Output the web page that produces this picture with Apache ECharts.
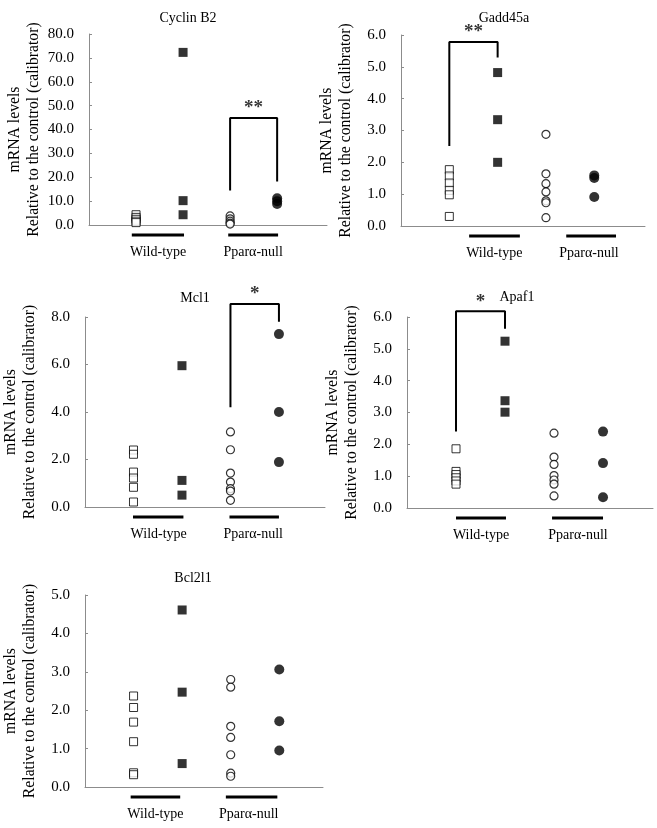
<!DOCTYPE html>
<html>
<head>
<meta charset="utf-8">
<script src="https://cdn.jsdelivr.net/npm/echarts@6/dist/echarts.min.js"></script>
<style>
html,body{margin:0;padding:0;background:#fff;}
#c{width:657px;height:828px;}
</style>
</head>
<body>
<div id="c"></div>
<script>
// ---------------- DATA ----------------
var groups = ["Wild-type", "Pparα-null"];
var genes = ["Cyclin B2", "Gadd45a", "Mcl1", "Apaf1", "Bcl2l1"];

// Cyclin B2
var cyclinWtControl   = [4.3, 3.2, 2.4, 1.6, 1.0];
var cyclinWtTreated   = [72.3, 10.2, 4.3];
var cyclinNullControl = [3.8, 2.6, 1.6, 0.8, 0.4];
var cyclinNullTreated = [11.2, 10.0, 8.8];
var cyclinSig = {from: 3, to: 4, top: 44.8, leftLow: 14.4, rightLow: 18.2, mark: "**"};

// Gadd45a
var gaddWtControl   = [1.77, 1.57, 1.35, 1.12, 0.98, 0.30];
var gaddWtTreated   = [4.82, 3.34, 2.0];
var gaddNullControl = [2.88, 1.64, 1.33, 1.07, 0.79, 0.73, 0.26];
var gaddNullTreated = [1.59, 1.51, 0.91];
var gaddSig = {from: 1, to: 2, top: 5.78, leftLow: 2.51, rightLow: 5.29, mark: "**"};

// Mcl1
var mclWtControl   = [2.4, 2.22, 1.47, 1.22, 0.83, 0.21];
var mclWtTreated   = [5.95, 1.12, 0.5];
var mclNullControl = [3.16, 2.41, 1.43, 1.05, 0.77, 0.67, 0.28];
var mclNullTreated = [7.28, 4.0, 1.89];
var mclSig = {from: 3, to: 4, top: 8.55, leftLow: 4.2, rightLow: 7.8, mark: "*"};

// Apaf1
var apafWtControl   = [1.86, 1.15, 1.05, 0.95, 0.85, 0.75];
var apafWtTreated   = [5.24, 3.37, 3.01];
var apafNullControl = [2.35, 1.6, 1.37, 1.02, 0.88, 0.75, 0.38];
var apafNullTreated = [2.4, 1.41, 0.34];
var apafSig = {from: 1, to: 2, top: 6.18, leftLow: 2.4, rightLow: 5.63, mark: "*"};

// Bcl2l1
var bclWtControl   = [2.37, 2.07, 1.69, 1.18, 0.37, 0.32];
var bclWtTreated   = [4.61, 2.47, 0.61];
var bclNullControl = [2.8, 2.6, 1.58, 1.29, 0.84, 0.36, 0.28];
var bclNullTreated = [3.06, 1.71, 0.95];

// y-axis scales
var yMaxes = [80, 6, 8, 6, 5];
var yIntervals = [10, 1, 2, 1, 1];

// ---------------- LAYOUT ----------------
var panels = [
  {left: 89,  top: 34,  width: 238, height: 191, xMax: 5.06,
   ul: [[0.91, 2.02], [2.96, 4.02]], lab: [1.47, 3.49], title: [183, 6]},
  {left: 401, top: 35,  width: 244, height: 191, xMax: 5.05,
   ul: [[1.41, 2.46], [3.42, 4.45]], lab: [1.93, 3.89], title: [499, 6]},
  {left: 84,  top: 317, width: 241, height: 190, xMax: 4.95,
   ul: [[0.99, 2.03], [2.98, 4.0]], lab: [1.52, 3.47], title: [190, 286]},
  {left: 407, top: 317, width: 246, height: 191, xMax: 5.02,
   ul: [[1.0, 2.02], [2.96, 4.0]], lab: [1.51, 3.49], title: [512, 285]},
  {left: 83,  top: 595, width: 240, height: 192, xMax: 4.9,
   ul: [[0.94, 1.96], [2.9, 3.96]], lab: [1.45, 3.37], title: [188, 566]}
];

var panelData = [
  [cyclinWtControl, cyclinWtTreated, cyclinNullControl, cyclinNullTreated, cyclinSig],
  [gaddWtControl, gaddWtTreated, gaddNullControl, gaddNullTreated, gaddSig],
  [mclWtControl, mclWtTreated, mclNullControl, mclNullTreated, mclSig],
  [apafWtControl, apafWtTreated, apafNullControl, apafNullTreated, apafSig],
  [bclWtControl, bclWtTreated, bclNullControl, bclNullTreated, null]
];

var FONT = "Liberation Serif, Times New Roman, serif";
var AXIS_COLOR = "#8c8c8c";

var option = {
  backgroundColor: "#fff",
  animation: false,
  title: [], grid: [], xAxis: [], yAxis: [], series: []
};

function col(x, arr) { return arr.map(function (v) { return [x, v]; }); }

panels.forEach(function (p, i) {
  option.title.push({
    text: genes[i], left: p.title[0], top: p.title[1], textAlign: "center",
    textStyle: {fontFamily: FONT, fontSize: 14, fontWeight: "normal", color: "#000"}
  });
  option.grid.push({left: p.left, top: p.top, width: p.width, height: p.height, containLabel: false});
  (function (lab) {
    option.xAxis.push({
      gridIndex: i, type: "value", min: 0, max: p.xMax,
      axisLine: {show: true, lineStyle: {color: AXIS_COLOR, width: 1}},
      axisTick: {show: false},
      splitLine: {show: false},
      axisLabel: {
        show: true, customValues: lab, margin: 20,
        fontFamily: FONT, fontSize: 14, color: "#000",
        formatter: function (v) { return Math.abs(v - lab[0]) < 1e-6 ? groups[0] : groups[1]; }
      }
    });
  })(p.lab);
  option.yAxis.push({
    gridIndex: i, type: "value", min: 0, max: yMaxes[i], interval: yIntervals[i],
    name: "mRNA levels\nRelative to the control (calibrator)",
    nameLocation: "middle", nameGap: 46,
    nameTextStyle: {fontFamily: FONT, fontSize: 15.7, color: "#000", lineHeight: 19},
    axisLine: {show: true, lineStyle: {color: AXIS_COLOR, width: 1}},
    axisTick: {show: true, inside: true, length: 3, lineStyle: {color: AXIS_COLOR}},
    splitLine: {show: false},
    axisLabel: {
      fontFamily: FONT, fontSize: 15, color: "#000", margin: 15,
      formatter: function (v) { return v.toFixed(1); }
    }
  });

  var d = panelData[i];
  var base = {xAxisIndex: i, yAxisIndex: i, type: "scatter", silent: true, z: 5};
  option.series.push(Object.assign({}, base, {
    data: col(1, d[0]), symbol: "rect", symbolSize: 8,
    itemStyle: {color: "#fff", borderColor: "#000", borderWidth: 1}
  }));
  option.series.push(Object.assign({}, base, {
    data: col(2, d[1]), symbol: "rect", symbolSize: 9,
    itemStyle: {color: "#000"}
  }));
  option.series.push(Object.assign({}, base, {
    data: col(3, d[2]), symbol: "circle", symbolSize: 8,
    itemStyle: {color: "#fff", borderColor: "#000", borderWidth: 1.2}
  }));
  option.series.push(Object.assign({}, base, {
    data: col(4, d[3]), symbol: "circle", symbolSize: 10,
    itemStyle: {color: "#000"}
  }));

  // group underlines below the x axis
  var uy = -(10 / p.height) * yMaxes[i];
  p.ul.forEach(function (seg) {
    option.series.push({
      xAxisIndex: i, yAxisIndex: i, type: "line", silent: true, clip: false,
      symbol: "none", data: [[seg[0], uy], [seg[1], uy]],
      lineStyle: {color: "#000", width: 3}
    });
  });

  // significance bracket
  var s = d[4];
  if (s) {
    option.series.push({
      xAxisIndex: i, yAxisIndex: i, type: "line", silent: true, clip: false,
      symbol: "none",
      data: [[s.from, s.leftLow], [s.from, s.top], [s.to, s.top], [s.to, s.rightLow]],
      lineStyle: {color: "#000", width: 2}
    });
    option.series.push({
      xAxisIndex: i, yAxisIndex: i, type: "scatter", silent: true, clip: false,
      symbolSize: 0, data: [[(s.from + s.to) / 2, s.top]],
      label: {show: true, position: "top", distance: 0, formatter: s.mark,
        fontFamily: FONT, fontSize: 19, fontWeight: "bold", color: "#000"}
    });
  }
});

var chart = echarts.init(document.getElementById("c"), null, {renderer: "canvas"});
chart.setOption(option);
</script>
</body>
</html>
